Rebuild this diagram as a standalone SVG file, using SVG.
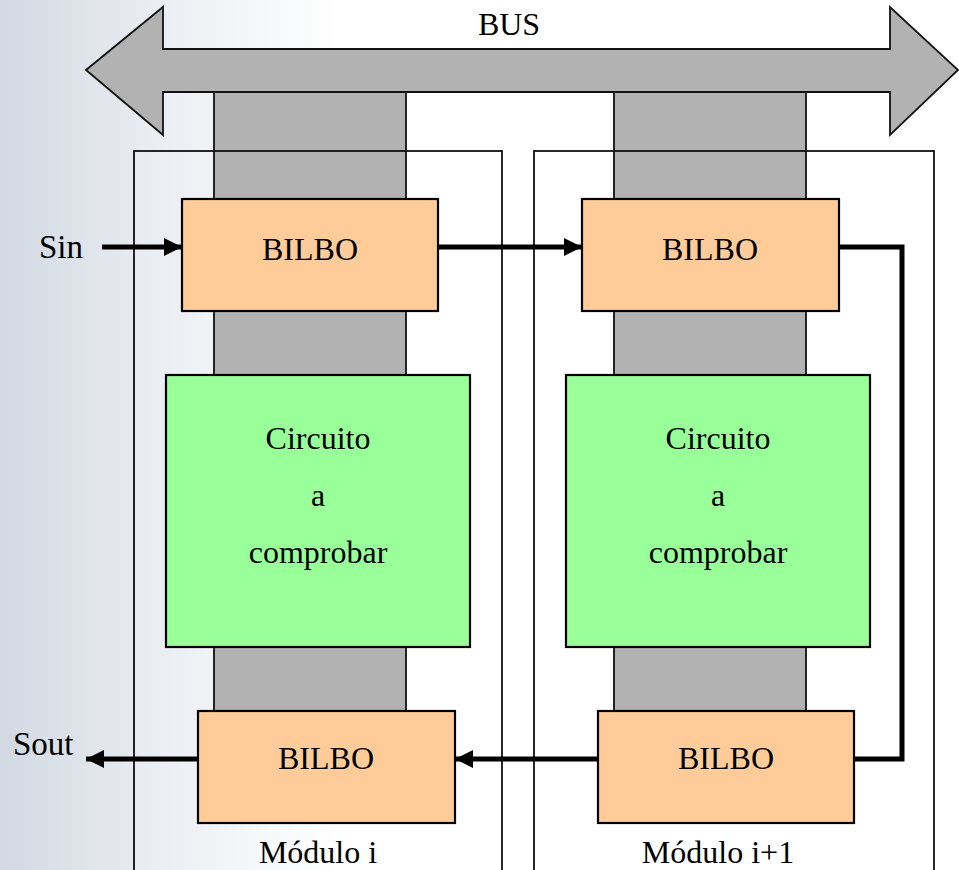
<svg xmlns="http://www.w3.org/2000/svg" width="959" height="870" viewBox="0 0 959 870">
  <defs>
    <linearGradient id="bg" x1="0" y1="0" x2="340" y2="0" gradientUnits="userSpaceOnUse">
      <stop offset="0" stop-color="#d2d9e2"/>
      <stop offset="0.45" stop-color="#eaedf2"/>
      <stop offset="1" stop-color="#ffffff"/>
    </linearGradient>
    <marker id="head" viewBox="0 0 18 18" refX="18" refY="9" markerWidth="18" markerHeight="18" markerUnits="userSpaceOnUse" orient="auto">
      <path d="M0,0 L18,9 L0,18 Z" fill="#000"/>
    </marker>
    <style>
      .txt { font-family: "Liberation Serif", "Times New Roman", serif; font-size: 32px; fill: #000; text-anchor: middle; }
      .lbl { font-family: "Liberation Serif", "Times New Roman", serif; font-size: 33px; fill: #000; }
      .bus { fill: #b2b2b2; stroke: #111; stroke-width: 1.8; }
      .module { fill: none; stroke: #111; stroke-width: 1.8; }
      .bilbo { fill: #ffcc99; stroke: #000; stroke-width: 2.2; }
      .cut { fill: #99ff99; stroke: #000; stroke-width: 2.2; }
      .wire { fill: none; stroke: #000; stroke-width: 5; }
    </style>
  </defs>

  <!-- background -->
  <rect x="0" y="0" width="959" height="870" fill="url(#bg)"/>

  <!-- vertical bus columns through each module -->
  <g id="columns">
    <rect class="bus" x="214" y="92" width="192" height="620"/>
    <rect class="bus" x="614" y="92" width="192" height="620"/>
  </g>

  <!-- double-headed system bus -->
  <g id="bus">
    <path class="bus" d="M86,70 L163,7 L163,49 L890,49 L890,7 L958,70 L890,135 L890,92 L163,92 L163,135 Z"/>
    <text class="txt" x="509" y="35">BUS</text>
  </g>

  <!-- module outlines -->
  <g id="modulo-i">
    <rect class="module" x="134" y="151" width="368" height="740"/>
    <text class="txt" x="318" y="863">Módulo i</text>
  </g>
  <g id="modulo-i1">
    <rect class="module" x="534" y="151" width="400" height="740"/>
    <text class="txt" x="718" y="863">Módulo i+1</text>
  </g>

  <!-- BILBO registers -->
  <g id="bilbo-1">
    <rect class="bilbo" x="182" y="199" width="256" height="112"/>
    <text class="txt" x="310" y="260">BILBO</text>
  </g>
  <g id="bilbo-2">
    <rect class="bilbo" x="582" y="199" width="257" height="112"/>
    <text class="txt" x="710" y="260">BILBO</text>
  </g>
  <g id="bilbo-3">
    <rect class="bilbo" x="198" y="711" width="257" height="112"/>
    <text class="txt" x="326" y="769">BILBO</text>
  </g>
  <g id="bilbo-4">
    <rect class="bilbo" x="598" y="711" width="256" height="112"/>
    <text class="txt" x="726" y="769">BILBO</text>
  </g>

  <!-- circuits under test -->
  <g id="circuito-1">
    <rect class="cut" x="166" y="375" width="304" height="272"/>
    <text class="txt" x="318" y="449">Circuito</text>
    <text class="txt" x="318" y="506">a</text>
    <text class="txt" x="318" y="563">comprobar</text>
  </g>
  <g id="circuito-2">
    <rect class="cut" x="566" y="375" width="304" height="272"/>
    <text class="txt" x="718" y="449">Circuito</text>
    <text class="txt" x="718" y="506">a</text>
    <text class="txt" x="718" y="563">comprobar</text>
  </g>

  <!-- scan chain -->
  <g id="connectors">
    <line class="wire" x1="102" y1="247" x2="182" y2="247" marker-end="url(#head)"/>
    <line class="wire" x1="438" y1="247" x2="582" y2="247" marker-end="url(#head)"/>
    <polyline class="wire" points="839,247 902,247 902,759 854,759"/>
    <line class="wire" x1="598" y1="759" x2="455" y2="759" marker-end="url(#head)"/>
    <line class="wire" x1="198" y1="759" x2="86" y2="759" marker-end="url(#head)"/>
  </g>

  <!-- chain end labels -->
  <text class="lbl" x="39" y="258">Sin</text>
  <text class="lbl" x="13" y="755">Sout</text>
</svg>
